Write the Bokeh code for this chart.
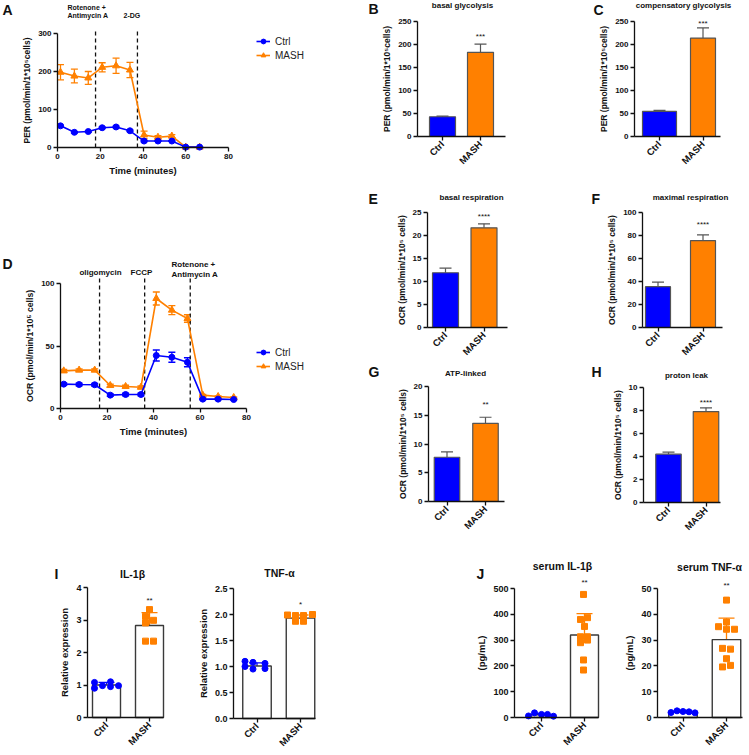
import math
from bokeh.plotting import figure
from bokeh.models import (Range1d, FixedTicker, Label, Legend, LegendItem,
                          Whisker, TeeHead, ColumnDataSource, PrintfTickFormatter)
from bokeh.layouts import row, column
from bokeh.embed import file_html
from bokeh.resources import INLINE

FONT = "Liberation Sans"
BLUE = "#0000FF"
ORANGE = "#FF8000"
INK = "#111111"

# ------------------------------------------------------------------ data
groups = ["Ctrl", "MASH"]

# A: proton efflux rate time course
per_time = [1.4, 7.9, 14.4, 20.9, 27.4, 33.9, 40.5, 47.0, 53.5, 60.0, 66.5]
per_ctrl = [57, 40, 42, 52, 54, 44, 17, 17, 17, 1, 1]
per_ctrl_err = [2, 2, 2, 2, 2, 2, 2, 1, 1, 0.5, 0.5]
per_mash = [198, 188, 183, 211, 215, 204, 33, 27, 30, 1, 1]
per_mash_err = [20, 18, 17, 12, 20, 20, 10, 4, 4, 1, 1]
per_injections = [17.8, 37.4]

# D: oxygen consumption rate time course
ocr_time = [1.4, 8.0, 14.7, 21.4, 28.0, 34.6, 41.2, 47.9, 54.6, 61.2, 67.8, 74.5]
ocr_ctrl = [19.5, 19.2, 19.0, 10.7, 11.2, 11.2, 42.4, 41.0, 37.0, 7.5, 7.5, 7.2]
ocr_ctrl_err = [1, 1, 1, 1, 1, 1, 4.4, 4.0, 3.6, 0.5, 0.5, 0.5]
ocr_mash = [30.1, 30.7, 30.7, 18.4, 17.6, 17.0, 88.0, 78.7, 72.0, 10.7, 9.6, 8.8]
ocr_mash_err = [1.2, 1, 1, 1, 1, 1, 5.2, 3.6, 3.0, 0.5, 0.5, 0.5]
ocr_injections = [16.8, 36.2, 55.8]

# B, C, E, F, G, H: mean and upper error
basal_glyco = [42.9, 183]
basal_glyco_err = [1.5, 18]
comp_glyco = [54.5, 214]
comp_glyco_err = [2.5, 22]
basal_resp = [11.9, 21.66]
basal_resp_err = [1.0, 0.87]
max_resp = [35.5, 75.6]
max_resp_err = [4.0, 4.9]
atp_linked = [7.7, 13.6]
atp_linked_err = [0.93, 1.05]
proton_leak = [4.2, 7.91]
proton_leak_err = [0.18, 0.32]

# I: relative expression (individual points)
il1b_ctrl = [1.08, 0.90, 0.98, 1.10, 0.95, 0.98]
il1b_mash = [3.32, 3.11, 2.99, 2.91, 2.35, 2.35]
il1b_mean = [1.0, 2.83]
il1b_sd = [0.08, 0.40]
tnfa_ctrl = [1.10, 1.08, 1.00, 1.06, 0.96, 0.95]
tnfa_mash = [1.99, 1.98, 1.98, 2.00, 1.87, 1.87]
tnfa_mean = [1.01, 1.93]
tnfa_sd = [0.06, 0.06]

# J: serum levels
s_il1b_ctrl = [6, 18, 12, 12, 5]
s_il1b_mash = [477, 380, 387, 353, 313, 313, 300, 290, 223, 184]
s_il1b_mean = [10.5, 320]
s_il1b_sd = [5, 83]
s_tnfa_ctrl = [1.93, 2.58, 2.32, 2.20, 1.80]
s_tnfa_mash = [45.5, 35.2, 37.0, 34.2, 34.2, 26.8, 26.5, 22.8, 19.6, 20.2]
s_tnfa_mean = [2.2, 30.2]
s_tnfa_sd = [0.3, 8.3]

significance = {"B": "***", "C": "***", "E": "****", "F": "****", "G": "**",
                "H": "****", "I1": "**", "I2": "*", "J1": "**", "J2": "**"}

# ------------------------------------------------------------------ layout constants (pixels)
il1b_ctrl_dx = [-12, -12, -4, 4, 4, 12]
il1b_mash_dx = [0, -4, 4, -4, -4, 4]
tnfa_ctrl_dx = [-12, -4, -12, 8, 8, -4]
tnfa_mash_dx = [-13, -5, 3, 12, -5, 3]
s_il1b_ctrl_dx = [-13, -7, 0, 6, 12]
s_il1b_mash_dx = [-1, -4, 3, 0, -4, 3, 3, -4, -1, -1]
s_tnfa_ctrl_dx = [-12, -6, 0, 6, 12]
s_tnfa_mash_dx = [0, -8, 0, 0, 8, -4, 4, 0, -4, 4]


def panel(box, xmap, ymap, xaxis_y, yaxis_x, xbounds, ybounds):
    """Figure whose frame fills its whole box; axes drawn at fixed data locations."""
    x0, y0, x1, y1 = box
    dx0, px0, dx1, px1 = xmap
    dy0, py0, dy1, py1 = ymap
    sx = (dx1 - dx0) / (px1 - px0)
    sy = (dy1 - dy0) / (py1 - py0)
    xr = (dx0 + (x0 - px0) * sx, dx0 + (x1 - px0) * sx)
    yr = (dy0 + (y1 - py0) * sy, dy0 + (y0 - py0) * sy)
    p = figure(width=x1 - x0, height=y1 - y0, x_range=Range1d(*xr), y_range=Range1d(*yr),
               output_backend="svg", toolbar_location=None, min_border=0,
               min_border_left=0, min_border_right=0, min_border_top=0, min_border_bottom=0)
    p.title.visible = False
    p.outline_line_color = None
    p.xgrid.visible = False
    p.ygrid.visible = False
    p.background_fill_color = "white"
    p.border_fill_color = "white"
    p.xaxis[0].fixed_location = xaxis_y
    p.yaxis[0].fixed_location = yaxis_x
    p.xaxis[0].bounds = xbounds
    p.yaxis[0].bounds = ybounds
    for ax in (p.xaxis[0], p.yaxis[0]):
        ax.axis_line_width = 1.3
        ax.axis_line_color = INK
        ax.major_tick_line_width = 1.3
        ax.major_tick_line_color = INK
        ax.major_tick_out = 4
        ax.major_tick_in = 0
        ax.minor_tick_line_color = None
        ax.major_label_text_font = FONT
        ax.major_label_text_font_style = "bold"
        ax.major_label_text_font_size = "8px"
        ax.major_label_text_color = INK
        ax.major_label_standoff = 2
        ax.axis_label_text_font = FONT
        ax.axis_label_text_font_style = "bold"
        ax.axis_label_text_font_size = "8.5px"
        ax.axis_label_text_color = INK
        ax.axis_label_standoff = 3

    def conv(px, py):
        return dx0 + (px - px0) * sx, dy0 + (py - py0) * sy
    return p, conv


def text(p, conv, px, py, s, size, style="bold", align="center", baseline="middle", color=INK):
    dx, dy = conv(px, py)
    p.add_layout(Label(x=dx, y=dy, text=s, text_font=FONT, text_font_style=style,
                       text_font_size=size, text_align=align, text_baseline=baseline,
                       text_color=color))


def timecourse(box, frame, ymax, yticks, ylabel, t, ctrl, ctrl_err, mash, mash_err,
               injections, legend_px):
    fx0, fy0, fx1, fy1 = frame
    p, conv = panel(box, (0, fx0, 80, fx1), (0, fy1, ymax, fy0), 0, 0, (0, 80), (0, ymax))
    p.xaxis.ticker = FixedTicker(ticks=[0, 20, 40, 60, 80])
    p.yaxis.ticker = FixedTicker(ticks=yticks)
    p.xaxis.axis_label = "Time (minutes)"
    p.xaxis.axis_label_text_font_size = "9.5px"
    p.yaxis.axis_label = ylabel
    p.segment(x0=injections, y0=[0] * len(injections), x1=injections,
              y1=[ymax * 1.04] * len(injections), line_color=INK, line_dash="4 3",
              line_width=1.3)
    rend = {}
    for name, vals, errs, col, mk, sz in (("MASH", mash, mash_err, ORANGE, "triangle", 7),
                                          ("Ctrl", ctrl, ctrl_err, BLUE, "circle", 6)):
        src = ColumnDataSource(dict(t=t, lo=[v - e for v, e in zip(vals, errs)],
                                    hi=[v + e for v, e in zip(vals, errs)]))
        p.add_layout(Whisker(source=src, base="t", lower="lo", upper="hi", line_color=col,
                             line_width=1.3,
                             upper_head=TeeHead(size=7, line_color=col, line_width=1.3),
                             lower_head=TeeHead(size=7, line_color=col, line_width=1.3)))
        ln = p.line(t, vals, line_color=col, line_width=1.6)
        sc = p.scatter(t, vals, marker=mk, size=sz, fill_color=col, line_color=col)
        rend[name] = [ln, sc]
    lx, ly_bottom = legend_px
    x0, y0, x1, y1 = box
    leg = Legend(items=[LegendItem(label=g, renderers=rend[g]) for g in groups],
                 location=(lx - x0, y1 - ly_bottom), border_line_color=None,
                 background_fill_alpha=0, label_text_font=FONT, label_text_font_size="10px",
                 label_text_color="#222", glyph_width=14, glyph_height=12, label_height=12,
                 spacing=2, padding=0, margin=0, label_standoff=5)
    p.add_layout(leg)
    return p, conv


def bar_axes(p):
    p.xaxis.ticker = FixedTicker(ticks=list(range(len(groups))))
    p.xaxis.major_label_overrides = {i: g for i, g in enumerate(groups)}
    p.xaxis.major_label_orientation = math.pi / 4
    p.xaxis.major_label_text_font_size = "9.5px"


def bar_base(box, frame, cx, mx, ymax):
    fx0, fy0, fx1, fy1 = frame
    unit = mx - cx
    xl = (fx0 - cx) / unit
    xh = (fx1 - cx) / unit
    p, conv = panel(box, (0, cx, 1, mx), (0, fy1, ymax, fy0), 0, xl, (xl, xh), (0, ymax))
    bar_axes(p)
    return p, conv, unit


def barpanel(box, frame, cx, mx, bw_px, ymax, yticks, ylabel, vals, errs):
    p, conv, unit = bar_base(box, frame, cx, mx, ymax)
    p.yaxis.ticker = FixedTicker(ticks=yticks)
    p.yaxis.axis_label = ylabel
    xs = list(range(len(groups)))
    p.vbar(x=xs, top=vals, width=[w / unit for w in bw_px], fill_color=[BLUE, ORANGE],
           line_color="#555555", line_width=1.2)
    src = ColumnDataSource(dict(x=xs, lo=vals, hi=[v + e for v, e in zip(vals, errs)]))
    p.add_layout(Whisker(source=src, base="x", lower="lo", upper="hi", line_color="#555555",
                         line_width=1.2, lower_head=None,
                         upper_head=TeeHead(size=12, line_color="#555555", line_width=1.2)))
    return p, conv


def dotpanel(box, frame, cx, mx, bw_px, ymax, yticks, ylabel, ctrl, ctrl_dx, mash, mash_dx,
             means, sds):
    p, conv, unit = bar_base(box, frame, cx, mx, ymax)
    p.yaxis.ticker = FixedTicker(ticks=yticks)
    p.yaxis.axis_label = ylabel
    p.yaxis.major_label_text_font_size = "9px"
    p.yaxis.axis_label_text_font_size = "9.5px"
    xs = list(range(len(groups)))
    p.vbar(x=xs, top=means, width=bw_px / unit, fill_color="white", line_color="#3a3a3a",
           line_width=1.4)
    for i, (pts, dx, col, mk) in enumerate(((ctrl, ctrl_dx, BLUE, "circle"),
                                            (mash, mash_dx, ORANGE, "square"))):
        p.scatter([i + d / unit for d in dx], pts, marker=mk, size=6, fill_color=col,
                  line_color=col)
        src = ColumnDataSource(dict(x=[i], lo=[means[i] - sds[i]], hi=[means[i] + sds[i]]))
        p.add_layout(Whisker(source=src, base="x", lower="lo", upper="hi", line_color=col,
                             line_width=1.3,
                             upper_head=TeeHead(size=16, line_color=col, line_width=1.3),
                             lower_head=TeeHead(size=16, line_color=col, line_width=1.3)))
    return p, conv


PER_LABEL = "PER (pmol/min/1*10\u2075cells)"
OCR_LABEL = "OCR (pmol/min/1*10\u2075 cells)"

# ---------------- row 1
pA, cA = timecourse((0, 0, 360, 190), (57, 33, 228, 147), 300, [0, 100, 200, 300],
                    PER_LABEL, per_time, per_ctrl, per_ctrl_err, per_mash, per_mash_err,
                    per_injections, (256, 61))
text(pA, cA, 2, 9, "A", "14px", align="left")
text(pA, cA, 67, 7, "Rotenone +", "7px", align="left")
text(pA, cA, 67, 15, "Antimycin A", "7px", align="left")
text(pA, cA, 123, 15, "2-DG", "7px", align="left")

pB, cB = barpanel((360, 0, 575, 190), (417, 21, 505, 136), 442, 480, [26, 26], 250,
                  [0, 50, 100, 150, 200, 250], PER_LABEL, basal_glyco, basal_glyco_err)
text(pB, cB, 368, 8, "B", "14px", align="left")
text(pB, cB, 462, 5, "basal glycolysis", "8px")
text(pB, cB, 480, 36, significance["B"], "8px", style="normal")

pC, cC = barpanel((575, 0, 747, 190), (634, 21, 720, 136), 659, 702.5, [34, 25], 250,
                  [0, 50, 100, 150, 200, 250], PER_LABEL, comp_glyco, comp_glyco_err)
text(pC, cC, 593, 9, "C", "14px", align="left")
text(pC, cC, 683, 5, "compensatory glycolysis", "8px")
text(pC, cC, 702.5, 23, significance["C"], "8px", style="normal")

# ---------------- row 2
pD, cD = timecourse((0, 190, 360, 555), (60, 283, 246, 408), 100, [0, 50, 100],
                    OCR_LABEL, ocr_time, ocr_ctrl, ocr_ctrl_err, ocr_mash, ocr_mash_err,
                    ocr_injections, (256, 372))
pD.yaxis.axis_label_text_font_size = "8.7px"
text(pD, cD, 2, 263, "D", "14px", align="left")
text(pD, cD, 100, 272, "oligomycin", "8px")
text(pD, cD, 141, 272, "FCCP", "8px")
text(pD, cD, 171, 264, "Rotenone +", "8px", align="left")
text(pD, cD, 171, 274, "Antimycin A", "8px", align="left")

pE, cE = barpanel((360, 190, 575, 362), (427, 212, 507, 327), 445, 483.5, [26, 26], 25,
                  [0, 5, 10, 15, 20, 25], OCR_LABEL, basal_resp, basal_resp_err)
text(pE, cE, 368, 198, "E", "14px", align="left")
text(pE, cE, 471, 197, "basal respiration", "8px")
text(pE, cE, 483.5, 216, significance["E"], "8px", style="normal")

pF, cF = barpanel((575, 190, 747, 362), (642, 212, 722, 327), 657.5, 702.5, [25, 25], 100,
                  [0, 20, 40, 60, 80, 100], OCR_LABEL, max_resp, max_resp_err)
text(pF, cF, 591, 198, "F", "14px", align="left")
text(pF, cF, 690, 197, "maximal respiration", "8px")
text(pF, cF, 702.5, 224, significance["F"], "8px", style="normal")

pG, cG = barpanel((360, 362, 575, 555), (428, 386, 504, 501), 446.5, 485, [25.5, 25.5], 20,
                  [0, 5, 10, 15, 20], OCR_LABEL, atp_linked, atp_linked_err)
text(pG, cG, 368, 371, "G", "14px", align="left")
text(pG, cG, 465, 373, "ATP-linked", "8px")
text(pG, cG, 485, 404, significance["G"], "8px", style="normal")

pH, cH = barpanel((575, 362, 747, 555), (643, 387, 720, 502), 668, 705.5, [25.5, 25.5], 10,
                  [0, 2, 4, 6, 8, 10], OCR_LABEL, proton_leak, proton_leak_err)
text(pH, cH, 591, 371, "H", "14px", align="left")
text(pH, cH, 686, 375, "proton leak", "8px")
text(pH, cH, 705.5, 402, significance["H"], "8px", style="normal")

# ---------------- row 3
pI1, cI1 = dotpanel((0, 555, 170, 755), (87, 587, 163, 717), 106, 149, 28, 4,
                    [0, 1, 2, 3, 4], "Relative expression", il1b_ctrl, il1b_ctrl_dx,
                    il1b_mash, il1b_mash_dx, il1b_mean, il1b_sd)
text(pI1, cI1, 54, 573, "I", "14px", align="left")
text(pI1, cI1, 132, 573, "IL-1\u03b2", "10.5px")
text(pI1, cI1, 149, 600, significance["I1"], "8px", style="normal")

pI2, cI2 = dotpanel((170, 555, 380, 755), (233, 588, 315, 718), 256.5, 300, 28.5, 2.5,
                    [0, 0.5, 1.0, 1.5, 2.0, 2.5], "Relative expression", tnfa_ctrl,
                    tnfa_ctrl_dx, tnfa_mash, tnfa_mash_dx, tnfa_mean, tnfa_sd)
pI2.yaxis.formatter = PrintfTickFormatter(format="%.1f")
text(pI2, cI2, 279, 572, "TNF-\u03b1", "10.5px")
text(pI2, cI2, 300, 604, significance["I2"], "8px", style="normal")

pJ1, cJ1 = dotpanel((380, 555, 617, 755), (514, 588, 598, 717), 541, 584, 28, 500,
                    [0, 100, 200, 300, 400, 500], "(pg/mL)", s_il1b_ctrl, s_il1b_ctrl_dx,
                    s_il1b_mash, s_il1b_mash_dx, s_il1b_mean, s_il1b_sd)
text(pJ1, cJ1, 476, 573, "J", "14px", align="left")
text(pJ1, cJ1, 562, 565, "serum IL-1\u03b2", "10.5px")
text(pJ1, cJ1, 584, 582, significance["J1"], "8px", style="normal")

pJ2, cJ2 = dotpanel((617, 555, 747, 755), (657, 588, 742, 717), 682.5, 726, 28.5, 50,
                    [0, 10, 20, 30, 40, 50], "(pg/mL)", s_tnfa_ctrl, s_tnfa_ctrl_dx,
                    s_tnfa_mash, s_tnfa_mash_dx, s_tnfa_mean, s_tnfa_sd)
text(pJ2, cJ2, 709, 566, "serum TNF-\u03b1", "10.5px")
text(pJ2, cJ2, 726, 585, significance["J2"], "8px", style="normal")

row1 = row(pA, pB, pC)
row2 = row(pD, column(row(pE, pF), row(pG, pH)))
row3 = row(pI1, pI2, pJ1, pJ2)
root = column(row1, row2, row3)

open("out.html", "w").write(file_html(root, INLINE))
